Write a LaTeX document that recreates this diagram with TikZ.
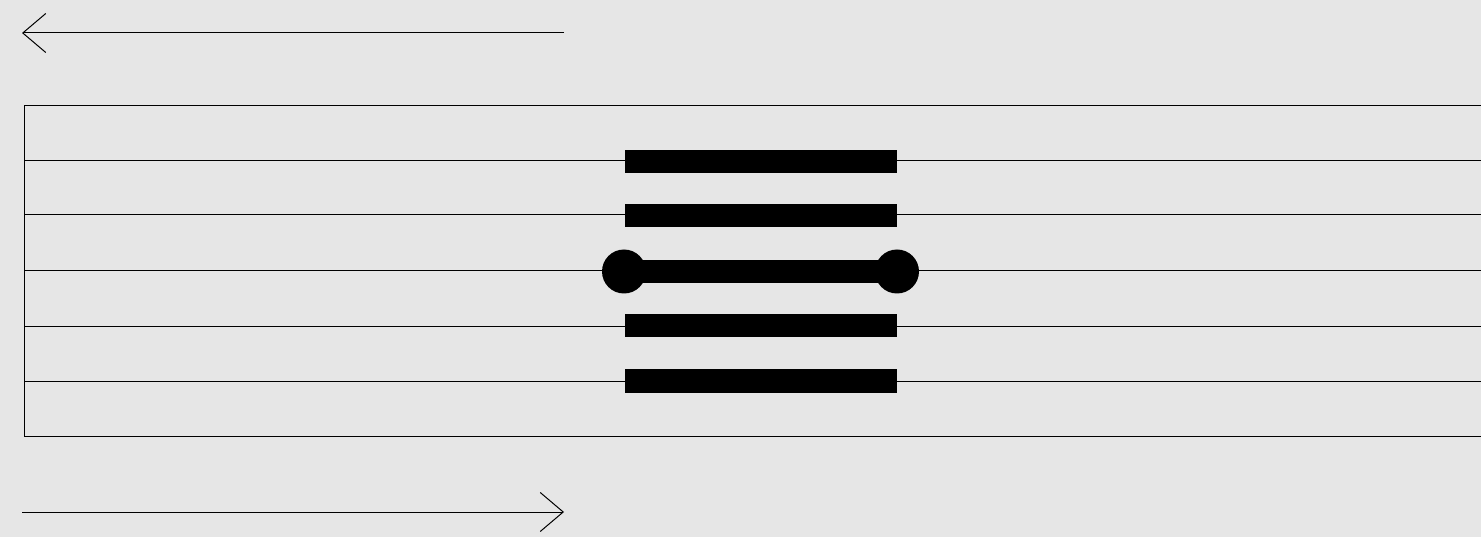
\documentclass[tikz,border=0pt]{standalone}
\usetikzlibrary{arrows.meta}
\definecolor{bg}{HTML}{E6E6E6}
\begin{document}
\begin{tikzpicture}[x=1pt,y=-1pt,
  thinline/.style={line width=1pt,black},
  arrowline/.style={line width=1pt,black,-{Straight Barb[length=23pt,width=39pt,line width=1pt]}},
  barstyle/.style={fill=black,draw=none},
  dotstyle/.style={fill=black,draw=none}]
\fill[bg] (0,0) rectangle (1481,537);
\useasboundingbox (0,0) rectangle (1481,537);
% arrows
\coordinate (ta) at (564,33);
\coordinate (tb) at (22,33);
\draw[arrowline] (ta) -- (tb);
\coordinate (ba) at (22,512);
\coordinate (bb) at (564,512);
\draw[arrowline] (ba) -- (bb);
% frame (open at right)
\draw[thinline] (1490,106) -- (24,106) -- (24,436) -- (1490,436);
\foreach \y in {161,215,271,327,381} {
  \draw[thinline] (24,\y) -- (1490,\y);
}
% bars
\foreach \y in {162,216,326,381} {
  \fill[barstyle] (625,\y-11.5) rectangle (897,\y+11.5);
}
\fill[barstyle] (624,260) rectangle (897,283);
\fill[dotstyle] (624,271.5) circle (22);
\fill[dotstyle] (897,271.5) circle (22);
\end{tikzpicture}
\end{document}
